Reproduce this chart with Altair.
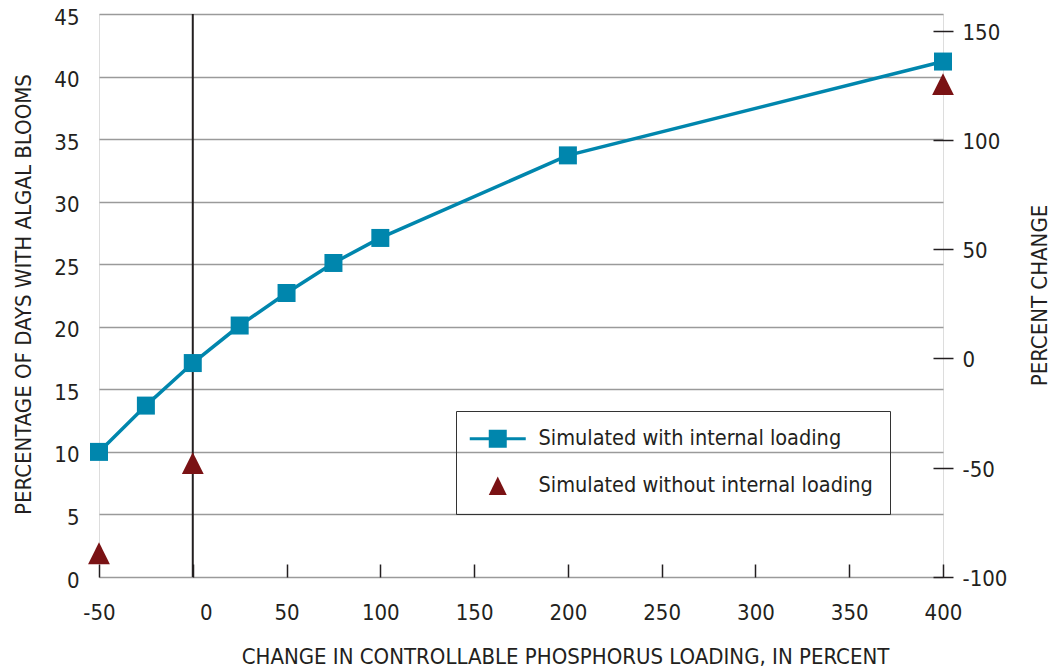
import altair as alt
import pandas as pd

# ---- data ----
series_names = ["Simulated with internal loading", "Simulated without internal loading"]
x_with = [-50, -25, 0, 25, 50, 75, 100, 200, 400]
y_with = [10.0, 13.7, 17.1, 20.1, 22.7, 25.1, 27.1, 33.7, 41.2]
x_without = [-50, 0, 400]
y_without = [1.9, 9.1, 39.4]
x_ticks = [-50, 0, 50, 100, 150, 200, 250, 300, 350, 400]
left_ticks = [0, 5, 10, 15, 20, 25, 30, 35, 40, 45]
right_ticks = [-100, -50, 0, 50, 100, 150]
zero_line = [0]

BLUE = "#0086ad"
RED = "#7a1214"
INK = "#231f20"
GRID = "#9a9a9a"
F = "DejaVu Sans Condensed, DejaVu Sans, sans-serif"
FS = 22

TRI = "M0,-1L1,1L-1,1Z"
LEG_LINE_SQUARE = "M-2.8,-0.16H2.8V0.16H-2.8Z M-0.9,-0.9H0.9V0.9H-0.9Z"
LEG_TRI = "M0,-0.93L0.9,0.93L-0.9,0.93Z"

df_with = pd.DataFrame({"x": x_with, "y": y_with, "series": series_names[0]})
df_without = pd.DataFrame({"x": x_without, "y": y_without, "series": series_names[1]})
df_pts = pd.concat([df_with, df_without], ignore_index=True)
df_zero = pd.DataFrame({"x": zero_line})
df_right = pd.DataFrame({"p": right_ticks})

x_scale = alt.Scale(domain=[-50, 400], nice=False, zero=False)
y_scale = alt.Scale(domain=[0, 45], nice=False)

HYPHEN = "replace(datum.label, '\u2212', '-')"

x_axis = alt.Axis(
    values=x_ticks, grid=False, domain=False, ticks=True, tickSize=13, offset=-13,
    tickColor=INK, tickWidth=1.5, labelPadding=42, labelBaseline="alphabetic",
    labelFont=F, labelFontSize=FS, labelColor=INK, labelFlush=False,
    labelExpr=HYPHEN,
    labelOffset={"condition": {"test": "datum.value == 0", "value": 13}, "value": 0},
    title="CHANGE IN CONTROLLABLE PHOSPHORUS LOADING, IN PERCENT",
    titleFont=F, titleFontSize=FS, titleFontWeight="normal", titleColor=INK,
    titleX=466, titleY=99, titleAlign="center", titleBaseline="alphabetic",
)

y_axis = alt.Axis(
    values=left_ticks, grid=True, gridColor=GRID, gridWidth=1.5, domain=False,
    ticks=False, labelPadding=20, labelBaseline="alphabetic", labelOffset=10,
    labelFont=F, labelFontSize=FS, labelColor=INK, labelFlush=False,
    labelExpr=HYPHEN,
    title="PERCENTAGE OF DAYS WITH ALGAL BLOOMS",
    titleFont=F, titleFontSize=FS, titleFontWeight="normal", titleColor=INK,
    titleAngle=270, titleX=-69, titleY=280, titleAlign="center",
    titleBaseline="alphabetic",
)

right_axis = alt.Axis(
    values=right_ticks, grid=False, domain=False, orient="right",
    ticks=True, tickSize=20, offset=-10, tickColor=INK, tickWidth=1.5,
    labelPadding=9, labelBaseline="alphabetic", labelOffset=8.5,
    labelFont=F, labelFontSize=FS, labelColor=INK, labelFlush=False,
    labelExpr=HYPHEN,
    title="PERCENT CHANGE",
    titleFont=F, titleFontSize=FS, titleFontWeight="normal", titleColor=INK,
    titleAngle=270, titleX=113, titleY=281, titleAlign="center",
    titleBaseline="alphabetic",
)

legend = alt.Legend(
    title=None, orient="none", legendX=357, legendY=397,
    labelFont=F, labelFontSize=21.5, labelColor=INK, labelLimit=500,
    symbolOffset=14, labelOffset=30, rowPadding=24, padding=17,
    strokeColor="#333333", symbolSize=400, symbolOpacity=1,
    symbolStrokeWidth=0,
)

line = alt.Chart(df_with).mark_line(color=BLUE, strokeWidth=3.5).encode(
    x=alt.X("x:Q", scale=x_scale, axis=x_axis),
    y=alt.Y("y:Q", scale=y_scale, axis=y_axis),
)

zero = alt.Chart(df_zero).mark_rule(color=INK, strokeWidth=2).encode(
    x=alt.X("x:Q", scale=x_scale),
)

squares = alt.Chart(df_with).mark_square(size=324, color=BLUE, opacity=1).encode(
    x=alt.X("x:Q", scale=x_scale),
    y=alt.Y("y:Q", scale=y_scale),
)

triangles = alt.Chart(df_without).mark_point(
    shape=TRI, size=475, filled=True, color=RED, opacity=1
).encode(
    x=alt.X("x:Q", scale=x_scale),
    y=alt.Y("y:Q", scale=y_scale),
)

# legend carrier: no marks drawn, only the legend from the explicit scale domains
legend_layer = alt.Chart(df_pts).transform_filter("false").mark_point(filled=True).encode(
    color=alt.Color("series:N", scale=alt.Scale(domain=series_names, range=[BLUE, RED]), legend=legend),
    shape=alt.Shape("series:N", scale=alt.Scale(domain=series_names, range=[LEG_LINE_SQUARE, LEG_TRI]), legend=legend),
)

right = alt.Chart(df_right).mark_rule(strokeOpacity=0).encode(
    y=alt.Y("p:Q", scale=alt.Scale(domain=[-100, 157.6], nice=False, zero=False), axis=right_axis),
)

left_layer = alt.layer(zero, line, squares, triangles, legend_layer)

chart = alt.layer(left_layer, right).resolve_scale(y="independent").properties(
    width=844, height=563,
    padding={"left": 99, "top": 14, "right": 108, "bottom": 90},
    autosize=alt.AutoSizeParams(type="none"),
).configure_view(stroke=INK, strokeWidth=2).configure(background="white")

chart.save("out.html", embed_options={"renderer": "svg", "actions": False})
